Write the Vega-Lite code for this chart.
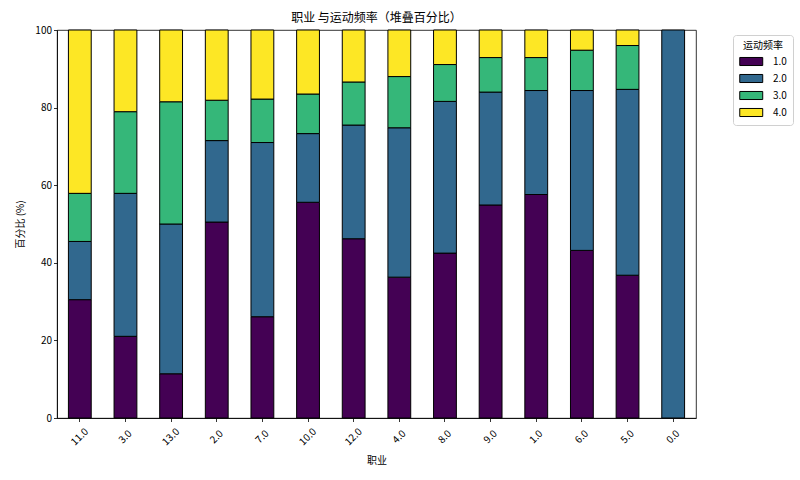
{
  "$schema": "https://vega.github.io/schema/vega-lite/v6.json",
  "width": 639,
  "height": 388,
  "autosize": {"type": "none"},
  "padding": {"left": 57, "top": 30, "right": 104, "bottom": 62},
  "background": "white",
  "title": {
    "text": "职业 与运动频率（堆叠百分比）",
    "font": "Noto Sans CJK SC",
    "fontSize": 12,
    "fontWeight": "normal",
    "color": "#000",
    "offset": 0
  },
  "data": {
    "values": [
      {"job": "11.0", "freq": "1.0", "pct": 30.5},
      {"job": "11.0", "freq": "2.0", "pct": 15.0},
      {"job": "11.0", "freq": "3.0", "pct": 12.4},
      {"job": "11.0", "freq": "4.0", "pct": 42.1},
      {"job": "3.0", "freq": "1.0", "pct": 21.05},
      {"job": "3.0", "freq": "2.0", "pct": 36.85},
      {"job": "3.0", "freq": "3.0", "pct": 21.05},
      {"job": "3.0", "freq": "4.0", "pct": 21.05},
      {"job": "13.0", "freq": "1.0", "pct": 11.4},
      {"job": "13.0", "freq": "2.0", "pct": 38.6},
      {"job": "13.0", "freq": "3.0", "pct": 31.5},
      {"job": "13.0", "freq": "4.0", "pct": 18.5},
      {"job": "2.0", "freq": "1.0", "pct": 50.5},
      {"job": "2.0", "freq": "2.0", "pct": 21.0},
      {"job": "2.0", "freq": "3.0", "pct": 10.4},
      {"job": "2.0", "freq": "4.0", "pct": 18.1},
      {"job": "7.0", "freq": "1.0", "pct": 26.1},
      {"job": "7.0", "freq": "2.0", "pct": 44.9},
      {"job": "7.0", "freq": "3.0", "pct": 11.2},
      {"job": "7.0", "freq": "4.0", "pct": 17.8},
      {"job": "10.0", "freq": "1.0", "pct": 55.6},
      {"job": "10.0", "freq": "2.0", "pct": 17.7},
      {"job": "10.0", "freq": "3.0", "pct": 10.2},
      {"job": "10.0", "freq": "4.0", "pct": 16.5},
      {"job": "12.0", "freq": "1.0", "pct": 46.2},
      {"job": "12.0", "freq": "2.0", "pct": 29.3},
      {"job": "12.0", "freq": "3.0", "pct": 11.1},
      {"job": "12.0", "freq": "4.0", "pct": 13.4},
      {"job": "4.0", "freq": "1.0", "pct": 36.3},
      {"job": "4.0", "freq": "2.0", "pct": 38.5},
      {"job": "4.0", "freq": "3.0", "pct": 13.2},
      {"job": "4.0", "freq": "4.0", "pct": 12.0},
      {"job": "8.0", "freq": "1.0", "pct": 42.5},
      {"job": "8.0", "freq": "2.0", "pct": 39.1},
      {"job": "8.0", "freq": "3.0", "pct": 9.5},
      {"job": "8.0", "freq": "4.0", "pct": 8.9},
      {"job": "9.0", "freq": "1.0", "pct": 54.9},
      {"job": "9.0", "freq": "2.0", "pct": 29.1},
      {"job": "9.0", "freq": "3.0", "pct": 8.9},
      {"job": "9.0", "freq": "4.0", "pct": 7.1},
      {"job": "1.0", "freq": "1.0", "pct": 57.6},
      {"job": "1.0", "freq": "2.0", "pct": 26.8},
      {"job": "1.0", "freq": "3.0", "pct": 8.5},
      {"job": "1.0", "freq": "4.0", "pct": 7.1},
      {"job": "6.0", "freq": "1.0", "pct": 43.2},
      {"job": "6.0", "freq": "2.0", "pct": 41.2},
      {"job": "6.0", "freq": "3.0", "pct": 10.4},
      {"job": "6.0", "freq": "4.0", "pct": 5.2},
      {"job": "5.0", "freq": "1.0", "pct": 36.8},
      {"job": "5.0", "freq": "2.0", "pct": 47.9},
      {"job": "5.0", "freq": "3.0", "pct": 11.3},
      {"job": "5.0", "freq": "4.0", "pct": 4.0},
      {"job": "0.0", "freq": "2.0", "pct": 100.0}
    ]
  },
  "config": {
    "font": "Noto Sans CJK SC",
    "view": {"stroke": "#000", "strokeWidth": 0.8},
    "axis": {
      "grid": false,
      "domainColor": "#000",
      "domainWidth": 0.8,
      "tickColor": "#000",
      "tickWidth": 0.8,
      "tickSize": 3.5,
      "labelFont": "Noto Sans CJK SC",
      "labelFontSize": 10,
      "labelColor": "#000",
      "titleFont": "Noto Sans CJK SC",
      "titleFontSize": 10,
      "titleFontWeight": "normal",
      "titleColor": "#000"
    }
  },
  "mark": {"type": "bar", "stroke": "#000", "strokeWidth": 1},
  "encoding": {
    "x": {
      "field": "job",
      "type": "nominal",
      "title": "职业",
      "sort": ["11.0", "3.0", "13.0", "2.0", "7.0", "10.0", "12.0", "4.0", "8.0", "9.0", "1.0", "6.0", "5.0", "0.0"],
      "scale": {"paddingInner": 0.5, "paddingOuter": 0.25},
      "axis": {
        "labelAngle": -45,
        "labelAlign": "center",
        "labelBaseline": "middle",
        "labelPadding": 15,
        "titlePadding": 9
      }
    },
    "y": {
      "field": "pct",
      "type": "quantitative",
      "title": "百分比 (%)",
      "stack": "zero",
      "scale": {"domain": [0, 100], "nice": false},
      "axis": {"values": [0, 20, 40, 60, 80, 100], "titlePadding": 9}
    },
    "color": {
      "field": "freq",
      "type": "nominal",
      "title": "运动频率",
      "scale": {
        "domain": ["1.0", "2.0", "3.0", "4.0"],
        "range": ["#440154", "#31688e", "#35b779", "#fde725"]
      },
      "legend": {
        "orient": "none",
        "legendX": 676,
        "legendY": 5,
        "fillColor": "white",
        "strokeColor": "#d0d0d0",
        "cornerRadius": 3,
        "padding": 6,
        "titleFont": "Noto Sans CJK SC",
        "titleFontSize": 10,
        "titleFontWeight": "normal",
        "titleColor": "#000",
        "titleAnchor": "middle",
        "titlePadding": 4,
        "labelFont": "Noto Sans CJK SC",
        "labelFontSize": 10,
        "labelColor": "#000",
        "labelOffset": 21,
        "rowPadding": 4,
        "symbolType": "M-1,-0.7L3,-0.7L3,0.7L-1,0.7Z",
        "symbolSize": 132,
        "symbolStrokeColor": "#000",
        "symbolStrokeWidth": 1,
        "symbolOpacity": 1
      }
    },
    "order": {"field": "freq", "sort": "ascending"}
  }
}
